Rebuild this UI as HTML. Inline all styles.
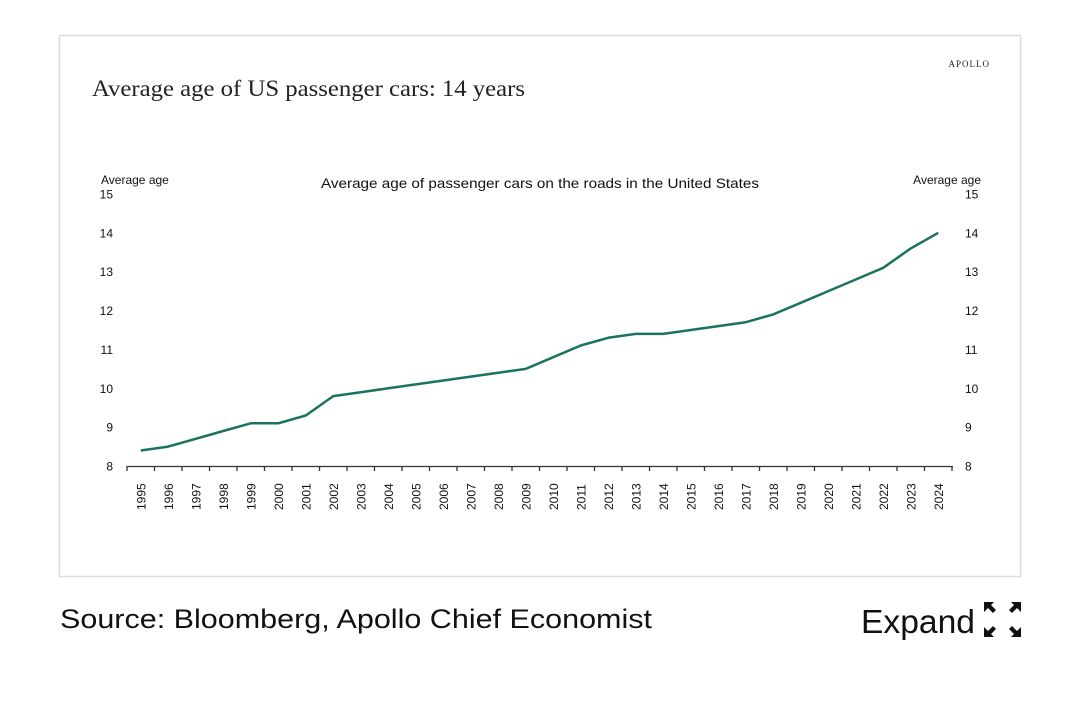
<!DOCTYPE html>
<html><head><meta charset="utf-8"><style>
body{margin:0;background:#fff;width:1080px;height:711px;overflow:hidden;font-family:"Liberation Sans",sans-serif}
</style></head><body>
<svg width="1080" height="711" viewBox="0 0 1080 711" xmlns="http://www.w3.org/2000/svg">
<rect x="59.5" y="35.5" width="961" height="541" fill="#fff" stroke="#dcdcdc" stroke-width="1.5"/>
<text x="92" y="96" font-family="Liberation Serif,serif" font-size="23" fill="#222" textLength="433" lengthAdjust="spacingAndGlyphs">Average age of US passenger cars: 14 years</text>
<text x="990" y="67" font-family="Liberation Serif,serif" font-size="9" letter-spacing="1" text-anchor="end" fill="#222">APOLLO</text>
<text x="321" y="188" font-size="14" fill="#111" textLength="438" lengthAdjust="spacingAndGlyphs">Average age of passenger cars on the roads in the United States</text>
<text x="101" y="184" font-size="12" fill="#111">Average age</text>
<text x="981" y="184" font-size="12" text-anchor="end" fill="#111">Average age</text>
<g font-size="12" fill="#111" id="yl"></g>
<g id="ax"></g>
<polyline id="ln" fill="none" stroke="#1b735e" stroke-width="2.5" stroke-linejoin="round"/>
<text x="60" y="628" font-size="27" fill="#111" textLength="592" lengthAdjust="spacingAndGlyphs">Source: Bloomberg, Apollo Chief Economist</text>
<text x="861" y="633" font-size="33" fill="#111" textLength="114" lengthAdjust="spacingAndGlyphs">Expand</text>
<g fill="#111">
<polygon points="984,602 994,602 991,605 996,610 993,613 988,608 984,612"/>
<polygon points="1021,602 1011,602 1014,605 1009,610 1012,613 1017,608 1021,612"/>
<polygon points="984,637 994,637 991,634 996,629 993,626 988,631 984,627"/>
<polygon points="1021,637 1011,637 1014,634 1009,629 1012,626 1017,631 1021,627"/>
</g>
</svg>
<script>
var ns="http://www.w3.org/2000/svg";
function el(t,a,p,txt){var e=document.createElementNS(ns,t);for(var k in a)e.setAttribute(k,a[k]);if(txt!==undefined)e.textContent=txt;p.appendChild(e);return e;}
var yl=document.getElementById('yl'),ax=document.getElementById('ax');
function Y(v){return 466-(v-8)*38.86;}
for(var v=8;v<=15;v++){el('text',{x:113,y:Y(v)+4.5,'text-anchor':'end'},yl,v);el('text',{x:965,y:Y(v)+4.5},yl,v);}
el('line',{x1:127,y1:466.5,x2:953,y2:466.5,stroke:'#333','stroke-width':1.3},ax);
for(var i=0;i<=30;i++){var x=127+27.5*i;el('line',{x1:x,y1:466,x2:x,y2:471,stroke:'#333','stroke-width':1.3},ax);}
var d=[8.4,8.5,8.7,8.9,9.1,9.1,9.3,9.8,9.9,10.0,10.1,10.2,10.3,10.4,10.5,10.8,11.1,11.3,11.4,11.4,11.5,11.6,11.7,11.9,12.2,12.5,12.8,13.1,13.6,14.0];
var pts=[];
for(var i=0;i<30;i++){var x=140.75+27.5*i;pts.push(x+','+Y(d[i]).toFixed(1));
el('text',{x:0,y:0,transform:'translate('+(x+4.5)+',510) rotate(-90)','font-size':12,fill:'#111'},ax,1995+i);}
document.getElementById('ln').setAttribute('points',pts.join(' '));
</script>
</body></html>
